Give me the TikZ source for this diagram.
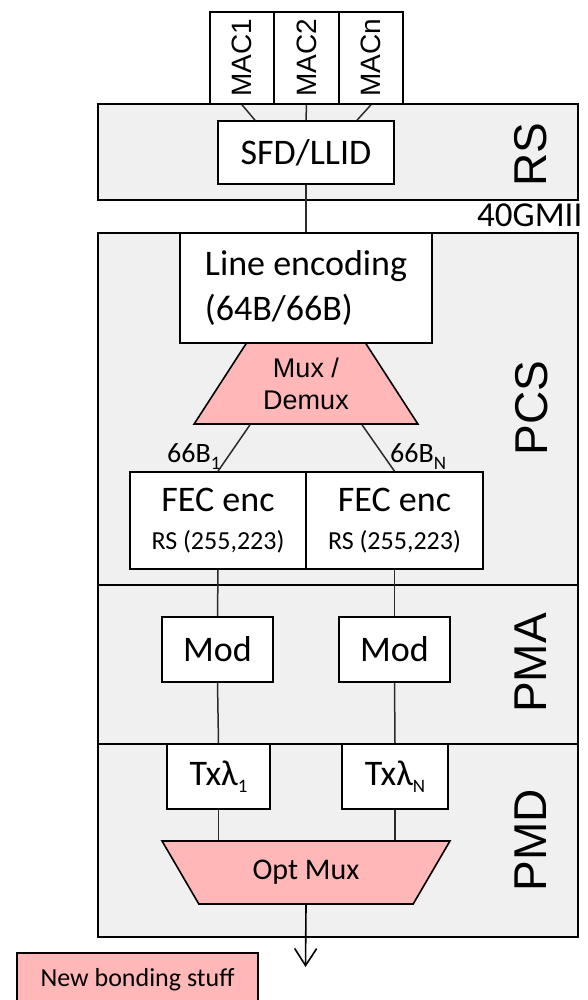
\documentclass[tikz,border=0pt]{standalone}
\usepackage{fontspec}
\setmainfont{Carlito}
\newfontfamily\arialfont{Liberation Sans}
\usepackage{tikz}
\usetikzlibrary{arrows.meta,shapes.geometric,positioning,calc}

\definecolor{layergray}{HTML}{F0F0F0}
\definecolor{bondpink}{HTML}{FFB7B7}
\definecolor{wiregray}{HTML}{2A2A2A}

% small lowered index (subscripts of 66B, Tx lambda)
\newcommand{\lowidx}[1]{\raisebox{-7pt}{\fontsize{19}{19}\selectfont #1}}

\begin{document}
\begin{tikzpicture}[
    x=1pt, y=-1pt,
    >=Stealth,
    layer/.style={draw, line width=2.2pt, fill=layergray,
        minimum width=480pt, inner sep=0pt},
    block/.style={draw, line width=1.6pt, fill=white,
        inner sep=0pt, align=center,
        font=\fontsize{36}{40}\selectfont},
    macbox/.style={draw, line width=1.6pt, fill=white, rotate=90,
        inner sep=0pt, minimum width=92pt, minimum height=64.5pt,
        font=\arialfont\fontsize{28}{30}\selectfont},
    muxbox/.style={draw, line width=1.6pt, fill=bondpink,
        trapezium, trapezium stretches=true,
        inner sep=0pt, align=center},
    lyrlbl/.style={rotate=90, inner sep=0pt,
        font=\arialfont\fontsize{46}{48}\selectfont},
    sublbl/.style={anchor=base west, inner sep=0pt,
        font=\fontsize{28}{30}\selectfont},
    wire/.style={line width=1.5pt, color=wiregray}
]
\useasboundingbox (0,0) rectangle (588,1000);

% layers
\node[layer, minimum height=96pt] (rs) at (338,152) {};
\node[layer, minimum height=352pt] (pcs) at (338,409) {};
\node[layer, minimum height=159pt] (pma) at (338,664.5) {};
\node[layer, minimum height=193pt] (pmd) at (338,840.5) {};

\node[lyrlbl] (rslbl) at (531,155) {RS};
\node[lyrlbl] (pcslbl) at (532,408) {PCS};
\node[lyrlbl] (pmalbl) at (531,663) {PMA};
\node[lyrlbl] (pmdlbl) at (531,840) {PMD};

% RS
\node[macbox] (mac1) at (242,58) {MAC1};
\node[macbox] (mac2) at (306.5,58) {MAC2};
\node[macbox] (macn) at (371,58) {MACn};
\node[block, minimum width=176pt, minimum height=63pt] (sfd) at (306,152.5) {SFD/LLID};

\node[sublbl, font=\fontsize{35}{36}\selectfont] (gmii) at (477,227) {40GMII};

% PCS
\node[block, minimum width=252pt, minimum height=110pt, align=left,
    font=\fontsize{36}{45}\selectfont] (enc) at (306,288) {Line encoding\\(64B/66B)};
\node[muxbox, trapezium angle=54, minimum width=224pt, minimum height=81pt,
    font=\arialfont\fontsize{27}{32}\selectfont] (mux) at (306,383.5) {Mux /\\Demux};

\node[block, minimum width=176pt, minimum height=97pt] (fec1) at (218,520.5)
    {FEC enc\\[-2pt]\fontsize{26}{30}\selectfont RS (255,223)};
\node[block, minimum width=177pt, minimum height=97pt] (fec2) at (394.5,520.5)
    {FEC enc\\[-2pt]\fontsize{26}{30}\selectfont RS (255,223)};

\node[sublbl] (lane1) at (167,462) {66B\lowidx{1}};
\node[sublbl] (lanen) at (390,462) {66B\lowidx{N}};

% PMA
\node[block, minimum width=111pt, minimum height=65pt] (mod1) at (217.5,649.5) {Mod};
\node[block, minimum width=111pt, minimum height=65pt] (mod2) at (394.5,649.5) {Mod};

% PMD
\node[block, minimum width=103pt, minimum height=65pt] (tx1) at (218.5,776.5) {Txλ\lowidx{1}};
\node[block, minimum width=106pt, minimum height=65pt] (txn) at (395,776.5) {Txλ\lowidx{N}};
\node[muxbox, trapezium left angle=127, trapezium right angle=127,
    minimum width=288pt, minimum height=63pt,
    font=\fontsize{30}{32}\selectfont] (optmux) at (306,872.5) {Opt Mux};

\coordinate (fiber) at (305.5,967);

\node[draw, line width=1.6pt, fill=bondpink, minimum width=241pt, minimum height=54pt,
    font=\fontsize{26}{28}\selectfont] (legend) at (137.5,980) {New bonding stuff};

% connectors
\draw[wire] (mac1.west) -- ([xshift=-51pt]sfd.north);
\draw[wire] (mac2.west) -- (sfd.north);
\draw[wire] (macn.west) -- ([xshift=51pt]sfd.north);
\draw[wire] (sfd.south) -- (enc.north);
\draw[wire] ([xshift=-56pt]mux.south) -- (fec1.north);
\draw[wire] ([xshift=56pt]mux.south) -- (fec2.north);
\draw[wire] (fec1.south) -- (mod1.north);
\draw[wire] (fec2.south) -- (mod2.north);
\draw[wire] (mod1.south) -- (tx1.north);
\draw[wire] (mod2.south) -- (txn.north);
\draw[wire] (tx1.south) -- (tx1.south |- optmux.north);
\draw[wire] (txn.south) -- (txn.south |- optmux.north);
\draw[line width=1.6pt, -{Straight Barb[length=17pt,width=22pt]}] (optmux.south) -- (fiber);

\end{tikzpicture}
\end{document}
